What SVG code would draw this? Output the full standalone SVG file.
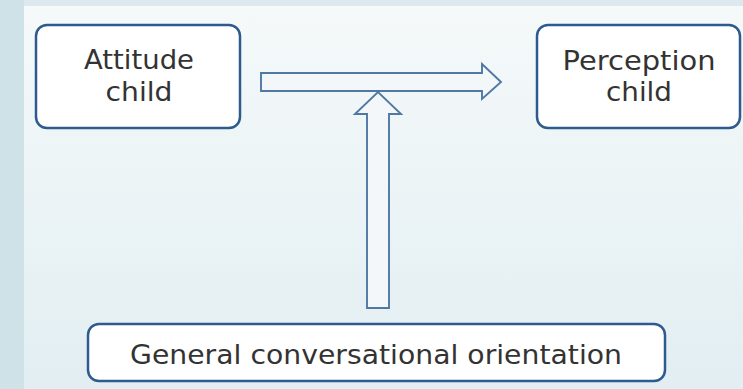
<svg xmlns="http://www.w3.org/2000/svg" width="743" height="389" viewBox="0 0 743 389">
<defs>
<linearGradient id="panel" x1="0" y1="0" x2="0" y2="1">
<stop offset="0" stop-color="#f5f9fa"/>
<stop offset="1" stop-color="#e2eef2"/>
</linearGradient>
<style>
.box{fill:#ffffff;stroke:#2e5b8e;stroke-width:2.5}
.arrow{fill:#f3f7f9;stroke:#4f78a3;stroke-width:1.9;stroke-linejoin:miter}
.lbl{font-family:"DejaVu Sans","Liberation Sans",sans-serif;font-size:27px;fill:#333333;text-anchor:middle}
</style>
</defs>
<rect x="0" y="0" width="743" height="389" fill="#dde9ee"/>
<rect x="0" y="0" width="24" height="389" fill="#cfe2e8"/>
<rect x="24" y="6" width="719" height="383" fill="url(#panel)"/>
<g id="connectors">
<path class="arrow" d="M261,73 H482 V64 L501,82 L482,99 V91 H261 Z"/>
<path class="arrow" d="M367,308 V114 H355 L378,92 L401,114 H389 V308 Z"/>
</g>
<g id="attitude">
<rect class="box" x="36" y="25" width="204" height="103" rx="11"/>
<text class="lbl" x="139" y="69" textLength="110" lengthAdjust="spacingAndGlyphs">Attitude</text>
<text class="lbl" x="139" y="101" textLength="67" lengthAdjust="spacingAndGlyphs">child</text>
</g>
<g id="perception">
<rect class="box" x="537" y="25" width="203" height="103" rx="11"/>
<text class="lbl" x="639" y="70" textLength="153" lengthAdjust="spacingAndGlyphs">Perception</text>
<text class="lbl" x="639" y="101" textLength="66" lengthAdjust="spacingAndGlyphs">child</text>
</g>
<g id="general">
<rect class="box" x="88" y="324" width="577" height="57" rx="11"/>
<text class="lbl" x="376" y="364" textLength="492" lengthAdjust="spacingAndGlyphs">General conversational orientation</text>
</g>
</svg>
